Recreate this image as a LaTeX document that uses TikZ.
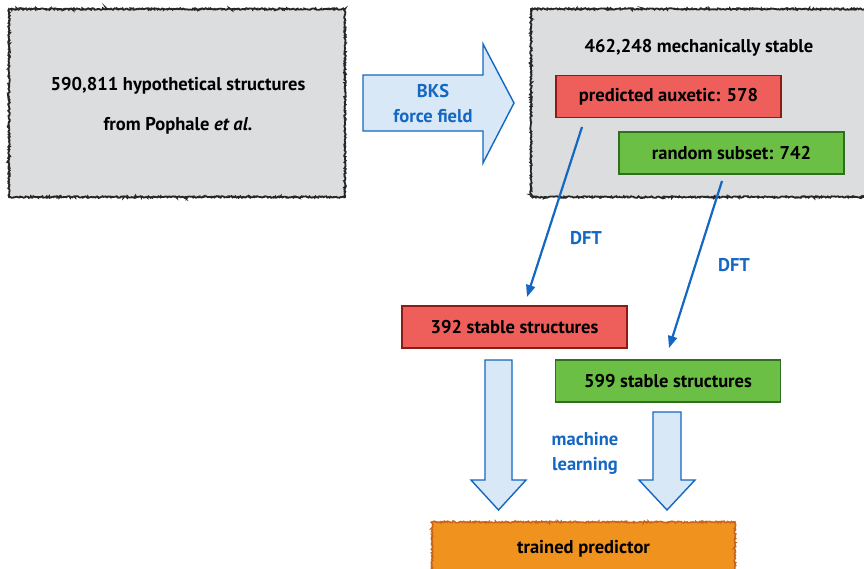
\documentclass[tikz,border=0pt]{standalone}
\usepackage{fontspec}
\setmainfont{PT Sans}
\usetikzlibrary{arrows.meta,decorations.pathmorphing}
\definecolor{boxgray}{HTML}{DCDDDF}
\definecolor{redfill}{HTML}{EE5F5B}
\definecolor{redline}{HTML}{8E1B12}
\definecolor{greenfill}{HTML}{6CBF45}
\definecolor{greenline}{HTML}{2E7020}
\definecolor{orangefill}{HTML}{F0921E}
\definecolor{orangeline}{HTML}{CC6418}
\definecolor{arrblue}{HTML}{1467C2}
\definecolor{lightblue}{HTML}{D9E8F6}
\tikzset{
  sketch/.style={decorate,decoration={random steps,segment length=1pt,amplitude=0.8pt}},
  graybox/.style={fill=boxgray,draw=black!85,line width=1.8pt,sketch},
  bigfont/.style={font=\bfseries\fontsize{18.5}{25}\selectfont},
  redbox/.style={draw=redline,fill=redfill,line width=1.2pt,minimum width=225pt,minimum height=42pt,inner sep=0pt,bigfont},
  greenbox/.style={draw=greenline,fill=greenfill,line width=1.2pt,minimum width=225pt,minimum height=42pt,inner sep=0pt,bigfont},
  txt/.style={bigfont,inner sep=0pt,yshift=-1.5pt},
  bluetxt/.style={bigfont,text=arrblue,align=center,inner sep=0pt,yshift=-1.5pt},
  blockarrow/.style={draw=arrblue,fill=lightblue,line width=1.4pt,line join=miter},
  dftarrow/.style={draw=arrblue,line width=2.2pt,-{Triangle[length=12pt,width=9pt]}}
}
\begin{document}
\begin{tikzpicture}[x=1pt,y=-1pt]
\useasboundingbox (0,0) rectangle (864,568);
% gray boxes
\draw[graybox] (9,9) rectangle (345,197);
\node[txt] (src1) at (178,84) {590,811 hypothetical structures};
\node[txt] (src2) at (178,124) {from Pophale \textit{et al.}};
\draw[graybox] (531,9) rectangle (872,197);
\node[txt] (mech) at (699,46) {462,248 mechanically stable};
% BKS arrow
\draw[blockarrow] (363,75) -- (483,75) -- (483,44) -- (514,103) -- (483,163) -- (483,131) -- (363,131) -- cycle;
\node[bluetxt] (bks) at (433,102) {BKS\\force field};
% inner boxes
\node[redbox] (aux) at (668.5,96.5) {predicted auxetic: 578};
\node[greenbox] (rnd) at (731.5,153) {random subset: 742};
\node[redbox] (s392) at (514.5,327) {392 stable structures};
\node[greenbox] (s599) at (668,381) {599 stable structures};
% DFT arrows
\coordinate (d1s) at (582,127);
\coordinate (d1e) at (527,297);
\coordinate (d2s) at (722,181);
\coordinate (d2e) at (669,348);
\draw[dftarrow] (d1s) -- (d1e);
\draw[dftarrow] (d2s) -- (d2e);
\node[bluetxt] (dft1) at (586,237) {DFT};
\node[bluetxt] (dft2) at (734,264) {DFT};
% down block arrows
\draw[blockarrow] (485,360) -- (512,360) -- (512,480) -- (526,480) -- (498.5,510) -- (471,480) -- (485,480) -- cycle;
\draw[blockarrow] (653,412) -- (681,412) -- (681,480) -- (695,480) -- (667,510) -- (639,480) -- (653,480) -- cycle;
\node[bluetxt] (ml) at (585,452) {machine\\learning};
% orange box
\draw[fill=orangefill,draw=orangeline,line width=1.6pt,sketch] (432,522) rectangle (735,580);
\node[txt] (pred) at (583.5,547) {trained predictor};
\end{tikzpicture}
\end{document}
